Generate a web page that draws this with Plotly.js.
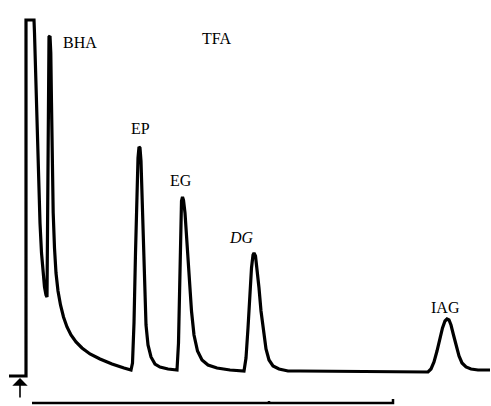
<!DOCTYPE html>
<html>
<head>
<meta charset="utf-8">
<script src="https://cdn.plot.ly/plotly-3.0.1.min.js"></script>
<style>html,body{margin:0;padding:0;background:#fff;}#chart{width:491px;height:406px;}</style>
</head>
<body>
<div id="chart"></div>
<script>
// Chromatogram trace: retention position (chart units) and detector response (chart units above baseline)
var traceX = [9,26,26,34,34.5,35.5,37,38.5,40,41.5,43,44.5,46,47,47.5,48,48.5,49,50,50.8,51.5,52.3,53.2,54.5,56,58,60.5,63.5,67,71,76,82,90,100,112,124,131,
  132.5,134,135.5,137,138,139,140,141,142,143,144.5,146,148,151,155,160,168,177,
  178.5,179.5,180.5,181.5,182.5,183.5,185,187,189,191.5,194,197.5,202,208,217,230,244,
  246,248,250,251.5,253,254,255.5,257,259,261,263.5,266,269,273,279,288,300,428,
  431,434,437,440,442.5,445,447,449,451,453.5,456,459,462,466,471,478,490];
var traceY = [-3,-3,353,353,340,300,240,190,150,120,100,86,78,76,140,240,320,336,337,320,270,200,160,125,100,82,68,56,46,38,31,25,19,14,9,5,3,
  10,50,120,185,215,226,225,212,180,130,80,48,28,16,9,6,4,3,
  30,90,150,172,176,173,160,130,95,62,38,22,13,8,5,3,2,
  15,45,80,105,118,120,117,105,85,62,40,24,13,7,4,2,2,1,
  4,11,22,35,45,52,54,53,48,38,27,17,10,6,4,3,3];

// Peak labels
var labelText = ["BHA","TFA","EP","EG","<i>DG</i>","IAG"];
var labelX = [80,216,140,181,241,445];
var labelY = [331,335,245,193,136,66];

// Time scale bar and injection marker
var scaleX = [32,269,269,269,393,393];
var scaleY = [-30,-30,-28,-30,-30,-26];
var injX = 20, injYtail = -26, injYhead = -5;

var font = {family:"Liberation Serif", size:16, color:"#000"};

var data = [
  {x:traceX, y:traceY, type:"scatter", mode:"lines", line:{color:"#000", width:3.2, shape:"linear"}, hoverinfo:"none"},
  {x:scaleX, y:scaleY, type:"scatter", mode:"lines", line:{color:"#000", width:2.5}, hoverinfo:"none"}
];

var annotations = labelText.map(function(t,i){
  return {x:labelX[i], y:labelY[i], text:t, showarrow:false, font:font, xanchor:"center", yanchor:"middle"};
});
annotations.push({x:injX, y:injYhead, ax:injX, ay:injYtail, axref:"x", ayref:"y", xref:"x", yref:"y",
  text:"", showarrow:true, arrowhead:1, arrowsize:1.6, arrowwidth:1.6, arrowcolor:"#000"});

var layout = {
  width:491, height:406,
  margin:{l:0,r:0,t:0,b:0},
  paper_bgcolor:"#fff", plot_bgcolor:"#fff",
  showlegend:false,
  xaxis:{range:[0,491], visible:false, fixedrange:true},
  yaxis:{range:[-33,373], visible:false, fixedrange:true},
  annotations:annotations
};

Plotly.newPlot("chart", data, layout, {displayModeBar:false, staticPlot:true});
</script>
</body>
</html>
